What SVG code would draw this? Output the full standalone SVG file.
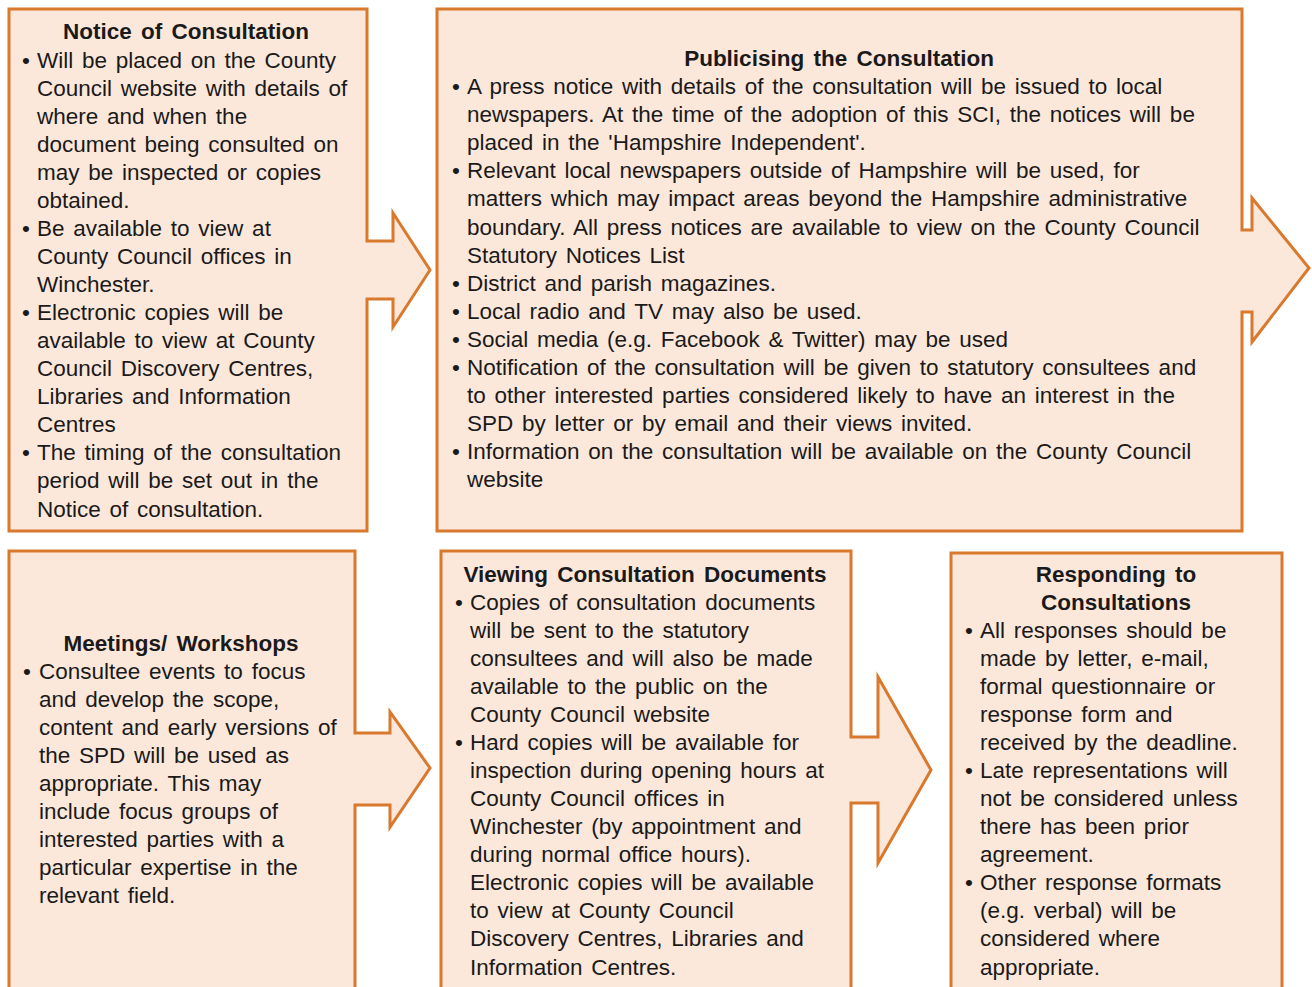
<svg xmlns="http://www.w3.org/2000/svg" width="1312" height="987" viewBox="0 0 1312 987">
<style>
.box{fill:#FCE8DA;stroke:#D8792E;stroke-width:3;stroke-linejoin:miter}
text{font-family:"Liberation Sans",Arial,sans-serif;font-size:22.5px;fill:#1a1a1a;word-spacing:2.5px}
.t{font-weight:bold;text-anchor:middle;word-spacing:3px}
</style>
<rect width="1312" height="987" fill="#ffffff"/>
<g id="notice">
<path class="box" d="M9,9 H367 V241 H393 V213 L430,270 L393,327 V299 H367 V531 H9 Z"/>
<text class="t" x="186" y="39">Notice of Consultation</text>
<text x="22" y="68">•</text><text x="37" y="68">Will be placed on the County</text>
<text x="37" y="96">Council website  with details of</text>
<text x="37" y="124">where and when the</text>
<text x="37" y="152">document being consulted on</text>
<text x="37" y="180">may be inspected or copies</text>
<text x="37" y="208">obtained.</text>
<text x="22" y="236">•</text><text x="37" y="236">Be available  to view at</text>
<text x="37" y="264">County Council offices in</text>
<text x="37" y="292">Winchester.</text>
<text x="22" y="320">•</text><text x="37" y="320">Electronic copies will be</text>
<text x="37" y="348">available  to view at County</text>
<text x="37" y="376">Council Discovery Centres,</text>
<text x="37" y="404">Libraries and Information</text>
<text x="37" y="432">Centres</text>
<text x="22" y="460">•</text><text x="37" y="460">The timing of the consultation</text>
<text x="37" y="488">period will be set out in the</text>
<text x="37" y="517">Notice of consultation.</text>
</g>
<g id="publicising">
<path class="box" d="M437,9 H1242 V230 H1252 V198 L1309,268 L1252,342 V312 H1242 V531 H437 Z"/>
<text class="t" x="839" y="66">Publicising  the Consultation</text>
<text x="452" y="94">•</text><text x="467" y="94">A press notice with details of the consultation  will be issued to local</text>
<text x="467" y="122">newspapers.  At the time of the adoption of this SCI, the notices will be</text>
<text x="467" y="150">placed in the 'Hampshire Independent'.</text>
<text x="452" y="178">•</text><text x="467" y="178">Relevant  local newspapers outside of Hampshire will be used, for</text>
<text x="467" y="206">matters which may impact areas beyond the Hampshire administrative</text>
<text x="467" y="235">boundary. All press notices are available  to view on the County Council</text>
<text x="467" y="263">Statutory  Notices List</text>
<text x="452" y="291">•</text><text x="467" y="291">District and parish magazines.</text>
<text x="452" y="319">•</text><text x="467" y="319">Local radio and TV may also be used.</text>
<text x="452" y="347">•</text><text x="467" y="347">Social media (e.g. Facebook &amp; Twitter) may be used</text>
<text x="452" y="375">•</text><text x="467" y="375">Notification of the consultation  will be given to statutory consultees  and</text>
<text x="467" y="403">to other interested  parties considered likely to have an interest in the</text>
<text x="467" y="431">SPD by letter or by email and their views  invited.</text>
<text x="452" y="459">•</text><text x="467" y="459">Information on the consultation  will be available  on the County Council</text>
<text x="467" y="487">website</text>
</g>
<g id="meetings">
<path class="box" d="M9,551 H355 V733 H390 V712 L430,768 L390,827 V805 H355 V995 H9 Z"/>
<text class="t" x="181" y="651">Meetings/ Workshops</text>
<text x="23" y="679">•</text><text x="39" y="679">Consultee  events  to focus</text>
<text x="39" y="707">and develop  the scope,</text>
<text x="39" y="735">content and early versions of</text>
<text x="39" y="763">the SPD will be used as</text>
<text x="39" y="791">appropriate. This may</text>
<text x="39" y="819">include focus groups of</text>
<text x="39" y="847">interested parties with a</text>
<text x="39" y="875">particular expertise  in the</text>
<text x="39" y="903">relevant  field.</text>
</g>
<g id="viewing">
<path class="box" d="M441,551 H851 V737 H878 V677 L931,770 L878,863 V803 H851 V995 H441 Z"/>
<text class="t" x="645" y="582">Viewing Consultation Documents</text>
<text x="455" y="610">•</text><text x="470" y="610">Copies of consultation  documents</text>
<text x="470" y="638">will be sent to the statutory</text>
<text x="470" y="666">consultees  and will also be made</text>
<text x="470" y="694">available  to the public on the</text>
<text x="470" y="722">County Council website</text>
<text x="455" y="750">•</text><text x="470" y="750">Hard copies will be available  for</text>
<text x="470" y="778">inspection during opening hours at</text>
<text x="470" y="806">County Council offices in</text>
<text x="470" y="834">Winchester (by appointment  and</text>
<text x="470" y="862">during normal office hours).</text>
<text x="470" y="890">Electronic copies will be available</text>
<text x="470" y="918">to view at County Council</text>
<text x="470" y="946">Discovery Centres, Libraries and</text>
<text x="470" y="975">Information Centres.</text>
</g>
<g id="responding">
<rect class="box" x="951" y="553" width="331" height="445"/>
<text class="t" x="1116" y="582">Responding to</text>
<text class="t" x="1116" y="610">Consultations</text>
<text x="965" y="638">•</text><text x="980" y="638">All responses should be</text>
<text x="980" y="666">made by letter, e-mail,</text>
<text x="980" y="694">formal questionnaire or</text>
<text x="980" y="722">response form and</text>
<text x="980" y="750">received by the deadline.</text>
<text x="965" y="778">•</text><text x="980" y="778">Late representations  will</text>
<text x="980" y="806">not be considered unless</text>
<text x="980" y="834">there has been prior</text>
<text x="980" y="862">agreement.</text>
<text x="965" y="890">•</text><text x="980" y="890">Other response formats</text>
<text x="980" y="918">(e.g. verbal) will be</text>
<text x="980" y="946">considered where</text>
<text x="980" y="975">appropriate.</text>
</g>
<g id="connectors"/>
</svg>
